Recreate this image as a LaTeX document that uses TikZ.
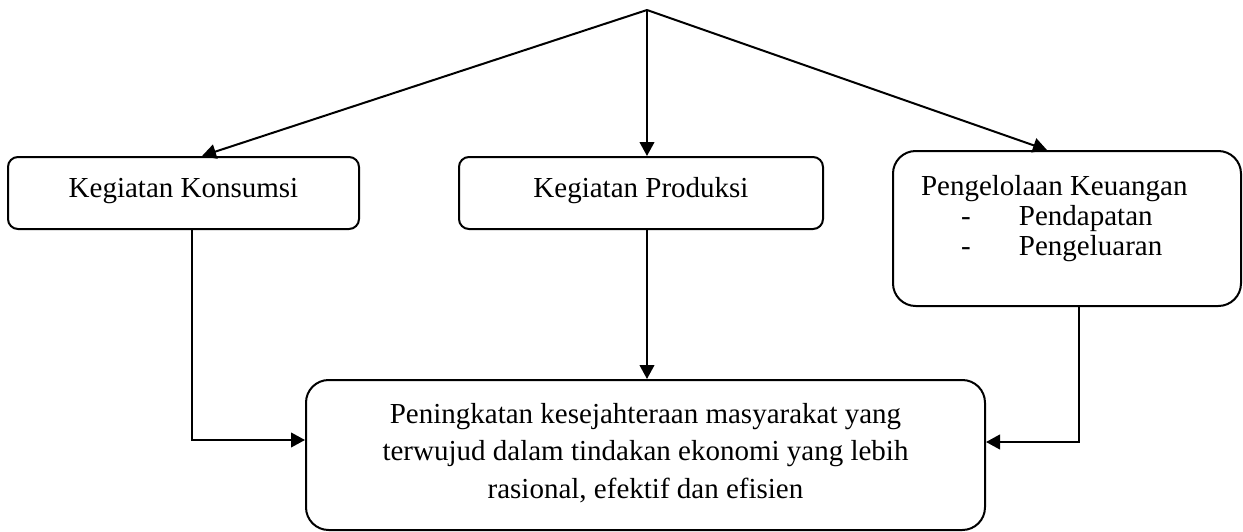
\documentclass[tikz,border=0pt]{standalone}
\usepackage{fontspec}
\setmainfont{Liberation Serif}
\usetikzlibrary{arrows.meta,fit}
\begin{document}
\begin{tikzpicture}[x=0.75pt,y=-0.75pt,
  line width=1.5pt,
  txt/.style={font=\fontsize{21.75pt}{28.1pt}\selectfont},
  box/.style={draw,line width=1.5pt,inner sep=0pt},
  smallbox/.style={box,rounded corners=7.5pt},
  bigbox/.style={box,rounded corners=17pt},
  arr/.style={-{Triangle[length=10.5pt,width=11pt]},line width=1.5pt},
  lbl/.style={txt,inner sep=0pt,anchor=base west},
  clbl/.style={txt,inner sep=0pt,anchor=base}]
\useasboundingbox (0,0) rectangle (1243,532);
% boxes
\node[smallbox,fit={(8,157) (359,229)}] (kons) {};
\node[clbl] (konst) at (183.5,197) {Kegiatan Konsumsi};
\node[smallbox,fit={(459,157) (823,229)}] (prod) {};
\node[clbl] (prodt) at (641,197) {Kegiatan Produksi};
\node[bigbox,fit={(893,151) (1241,306)}] (keu) {};
\node[lbl] (keu1) at (920,195) {Pengelolaan Keuangan};
\node[lbl] (keu2) at (960,225) {\makebox[43.5pt][l]{-}Pendapatan};
\node[lbl] (keu3) at (960,255) {\makebox[43.5pt][l]{-}Pengeluaran};
\node[bigbox,fit={(306,380) (985,530)}] (res) {};
\node[clbl] (res1) at (645.5,423) {Peningkatan kesejahteraan masyarakat yang};
\node[clbl] (res2) at (645.5,460) {terwujud dalam tindakan ekonomi yang lebih};
\node[clbl] (res3) at (645.5,498) {rasional, efektif dan efisien};
% helper coordinates
\coordinate (top) at (647,10);
\coordinate (ka) at (202,157);
\coordinate (ra) at (1047,151);
\coordinate (kc) at (192,440);
\coordinate (rc) at (1079,442);
% connectors
\draw[arr] (top) -- (kons.north -| ka);
\draw[arr] (top) -- (prod.north -| top);
\draw[arr] (top) -- (keu.north -| ra);
\draw[arr] (prod.south -| top) -- (res.north -| top);
\draw[arr] (kons.south -| kc) |- (res.west |- kc);
\draw[arr] (keu.south -| rc) |- (res.east |- rc);
\end{tikzpicture}
\end{document}
